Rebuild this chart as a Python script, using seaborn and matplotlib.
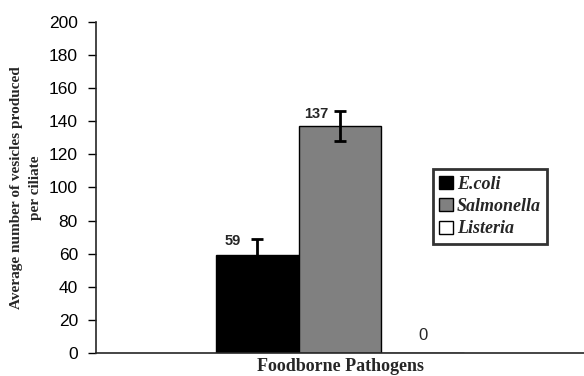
import numpy as np
import pandas as pd
import seaborn as sns
import matplotlib.pyplot as plt

# data
pathogens = ["E.coli", "Salmonella", "Listeria"]
vesicles = [59, 137, 0]
errors = [10, 9, 0]
group = ["Foodborne Pathogens"] * 3
value_labels = ["59", "137", "0"]

my_palette = {"E.coli": "#000000", "Salmonella": "#808080", "Listeria": "#ffffff"}

sns.set_style("ticks")
plt.rcParams["font.family"] = ["Liberation Sans", "DejaVu Sans"]

df = pd.DataFrame({"Group": group, "Pathogen": pathogens, "Vesicles": vesicles})

fig = plt.figure(figsize=(5.84, 3.76), dpi=100)
ax = fig.add_axes([0.1644, 0.0612, 0.8356, 0.8803])

sns.barplot(
    data=df,
    x="Group",
    y="Vesicles",
    hue="Pathogen",
    hue_order=pathogens,
    palette=my_palette,
    width=0.51,
    edgecolor="black",
    linewidth=1.0,
    errorbar=None,
    ax=ax,
)

# error bars and value labels on each bar
bars = [p for p in ax.patches if p.get_width() > 0][:3]
for bar, err, lab, val in zip(bars, errors, value_labels, vesicles):
    cx = bar.get_x() + bar.get_width() / 2
    if err > 0:
        ax.errorbar(cx, val, yerr=err, fmt="none", ecolor="black",
                    elinewidth=2, capsize=4, capthick=2)
        ax.text(bar.get_x() + bar.get_width() * 0.21, val + err - 1.5, lab,
                ha="center", va="center", fontsize=10.5, fontweight="bold")
    else:
        ax.text(cx, 10.5, lab, ha="center", va="center", fontsize=12)

ax.set_ylim(0, 200)
ax.set_yticks(np.arange(0, 201, 20))
ax.set_xlim(-0.5, 0.5)
ax.set_xticks([])
ax.tick_params(axis="y", labelsize=12.5, length=6, width=1, pad=7,
               direction="out", colors="black")
ax.set_ylabel("Average number of vesicles produced\nper ciliate", family="Liberation Serif",
              fontweight="bold", fontsize=11, linespacing=1.6, labelpad=5)
ax.set_xlabel("Foodborne Pathogens", family="Liberation Serif", fontweight="bold",
              fontsize=13, labelpad=3.5)
sns.despine(ax=ax)
ax.spines["left"].set_linewidth(1.2)
ax.spines["bottom"].set_linewidth(1.2)

leg = ax.legend(loc="upper left", bbox_to_anchor=(0.69, 0.555), frameon=True,
                fancybox=False, edgecolor="black", handlelength=0.75, handleheight=0.75,
                handletextpad=0.25, borderpad=0.35, labelspacing=0.3, borderaxespad=0,
                prop={"family": "Liberation Serif", "weight": "bold", "style": "italic", "size": 13})
leg.get_frame().set_linewidth(2)

plt.savefig("out.png", dpi=100)
